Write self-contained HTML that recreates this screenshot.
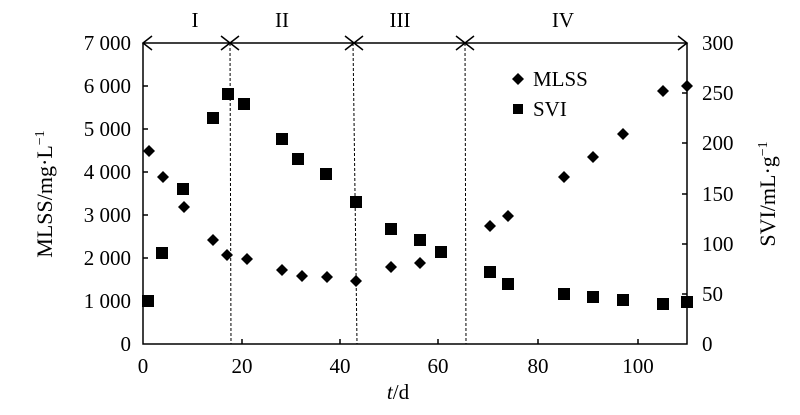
<!DOCTYPE html>
<html><head><style>body{margin:0;background:#fff}</style></head><body>
<svg width="800" height="410" xmlns="http://www.w3.org/2000/svg" font-family="Liberation Serif, serif" font-size="21" fill="#000">
<rect x="0" y="0" width="800" height="410" fill="#fff"/>
<g stroke="#000" stroke-width="1.5" fill="none">
<polyline points="143,43 143,344 687,344 687,43"/>
<line x1="143" y1="43" x2="687" y2="43"/>
<polyline points="152,36 143,43 152,50"/>
<polyline points="678,36 687,43 678,50"/>
<path d="M221,36 L239,50 M221,50 L239,36 M345,36 L363,50 M345,50 L363,36 M456,36 L474,50 M456,50 L474,36"/>
</g>
<g stroke="#000" stroke-width="1" stroke-dasharray="3,2">
<line x1="230" y1="43" x2="231" y2="344"/>
<line x1="353" y1="43" x2="357" y2="344"/>
<line x1="465" y1="43" x2="466" y2="344"/>
</g>
<g stroke="#000" stroke-width="1.5">
<line x1="143" y1="301" x2="148" y2="301"/><line x1="143" y1="258" x2="148" y2="258"/><line x1="143" y1="215" x2="148" y2="215"/><line x1="143" y1="172" x2="148" y2="172"/><line x1="143" y1="129" x2="148" y2="129"/><line x1="143" y1="86" x2="148" y2="86"/>
<line x1="682" y1="294" x2="687" y2="294"/><line x1="682" y1="244" x2="687" y2="244"/><line x1="682" y1="194" x2="687" y2="194"/><line x1="682" y1="143" x2="687" y2="143"/><line x1="682" y1="93" x2="687" y2="93"/>
<line x1="242" y1="344" x2="242" y2="339"/><line x1="340" y1="344" x2="340" y2="339"/><line x1="438" y1="344" x2="438" y2="339"/><line x1="538" y1="344" x2="538" y2="339"/><line x1="638" y1="344" x2="638" y2="339"/>
</g>
<g text-anchor="end">
<text x="131" y="351">0</text><text x="131" y="308">1 000</text><text x="131" y="265">2 000</text><text x="131" y="222">3 000</text><text x="131" y="179">4 000</text><text x="131" y="136">5 000</text><text x="131" y="93">6 000</text><text x="131" y="50">7 000</text>
</g>
<g>
<text x="702" y="351">0</text><text x="702" y="301">50</text><text x="702" y="251">100</text><text x="702" y="201">150</text><text x="702" y="150">200</text><text x="702" y="100">250</text><text x="702" y="50">300</text>
</g>
<g text-anchor="middle">
<text x="143" y="373">0</text><text x="242" y="373">20</text><text x="340" y="373">40</text><text x="438" y="373">60</text><text x="538" y="373">80</text><text x="638" y="373">100</text>
<text x="398" y="399"><tspan font-style="italic">t</tspan>/d</text>
<text x="195" y="27">I</text><text x="282" y="27">II</text><text x="400" y="27">III</text><text x="563" y="27">IV</text>
<text font-size="22" transform="translate(52,194) rotate(-90)">MLSS/mg·L<tspan font-size="14" dy="-8">−1</tspan></text>
<text font-size="22" transform="translate(775,194) rotate(-90)">SVI/mL·g<tspan font-size="14" dy="-8">−1</tspan></text>
</g>
<g>
<path d="M518,73 L524,79 L518,85 L512,79Z"/><text x="533" y="86">MLSS</text>
<rect x="513" y="104" width="10" height="10"/><text x="533" y="116">SVI</text>
</g>
<g>
<path d="M0,-6 L6,0 L0,6 L-6,0Z" transform="translate(149,151)"/>
<path d="M0,-6 L6,0 L0,6 L-6,0Z" transform="translate(163,177)"/>
<path d="M0,-6 L6,0 L0,6 L-6,0Z" transform="translate(184,207)"/>
<path d="M0,-6 L6,0 L0,6 L-6,0Z" transform="translate(213,240)"/>
<path d="M0,-6 L6,0 L0,6 L-6,0Z" transform="translate(227,255)"/>
<path d="M0,-6 L6,0 L0,6 L-6,0Z" transform="translate(247,259)"/>
<path d="M0,-6 L6,0 L0,6 L-6,0Z" transform="translate(282,270)"/>
<path d="M0,-6 L6,0 L0,6 L-6,0Z" transform="translate(302,276)"/>
<path d="M0,-6 L6,0 L0,6 L-6,0Z" transform="translate(327,277)"/>
<path d="M0,-6 L6,0 L0,6 L-6,0Z" transform="translate(356,281)"/>
<path d="M0,-6 L6,0 L0,6 L-6,0Z" transform="translate(391,267)"/>
<path d="M0,-6 L6,0 L0,6 L-6,0Z" transform="translate(420,263)"/>
<path d="M0,-6 L6,0 L0,6 L-6,0Z" transform="translate(490,226)"/>
<path d="M0,-6 L6,0 L0,6 L-6,0Z" transform="translate(508,216)"/>
<path d="M0,-6 L6,0 L0,6 L-6,0Z" transform="translate(564,177)"/>
<path d="M0,-6 L6,0 L0,6 L-6,0Z" transform="translate(593,157)"/>
<path d="M0,-6 L6,0 L0,6 L-6,0Z" transform="translate(623,134)"/>
<path d="M0,-6 L6,0 L0,6 L-6,0Z" transform="translate(663,91)"/>
<path d="M0,-6 L6,0 L0,6 L-6,0Z" transform="translate(687,86)"/>
</g>
<g>
<rect x="142" y="295" width="12" height="12"/>
<rect x="156" y="247" width="12" height="12"/>
<rect x="177" y="183" width="12" height="12"/>
<rect x="207" y="112" width="12" height="12"/>
<rect x="222" y="88" width="12" height="12"/>
<rect x="238" y="98" width="12" height="12"/>
<rect x="276" y="133" width="12" height="12"/>
<rect x="292" y="153" width="12" height="12"/>
<rect x="320" y="168" width="12" height="12"/>
<rect x="350" y="196" width="12" height="12"/>
<rect x="385" y="223" width="12" height="12"/>
<rect x="414" y="234" width="12" height="12"/>
<rect x="435" y="246" width="12" height="12"/>
<rect x="484" y="266" width="12" height="12"/>
<rect x="502" y="278" width="12" height="12"/>
<rect x="558" y="288" width="12" height="12"/>
<rect x="587" y="291" width="12" height="12"/>
<rect x="617" y="294" width="12" height="12"/>
<rect x="657" y="298" width="12" height="12"/>
<rect x="681" y="296" width="12" height="12"/>
</g>
</svg>
</body></html>
